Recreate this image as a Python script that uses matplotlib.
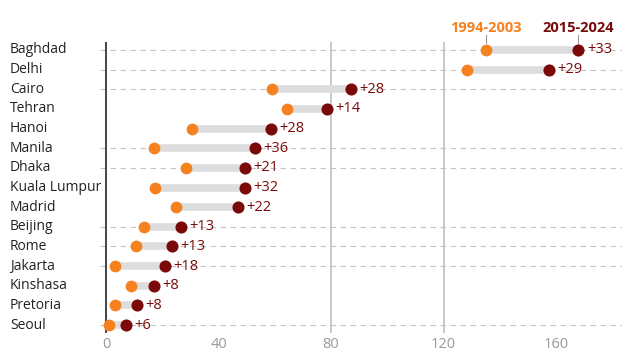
import matplotlib
matplotlib.use("Agg")
import matplotlib.pyplot as plt
import matplotlib.transforms as mtransforms

# Average temperature days, older decade vs recent decade
cities = ["Baghdad", "Delhi", "Cairo", "Tehran", "Hanoi", "Manila", "Dhaka",
          "Kuala Lumpur", "Madrid", "Beijing", "Rome", "Jakarta", "Kinshasa",
          "Pretoria", "Seoul"]
early = [135, 128.5, 59, 64.5, 30.5, 17, 28.5, 17.5, 25, 13.5, 10.5, 3, 9, 3, 1]
recent = [168, 157.5, 87, 78.5, 58.5, 53, 49.5, 49.5, 47, 26.5, 23.5, 21, 17, 11, 7]
changes = [33, 29, 28, 14, 28, 36, 21, 32, 22, 13, 13, 18, 8, 8, 6]
x_ticks = [0, 40, 80, 120, 160]
period_labels = ["1994-2003", "2015-2024"]

# rows that carry the dashed guide line in the original
dashed_rows = ["Baghdad", "Delhi", "Cairo", "Manila", "Dhaka", "Beijing",
               "Rome", "Jakarta", "Seoul"]

ORANGE = "#F5821F"
DARKRED = "#7A0A0A"

plt.rcParams["font.family"] = ["Open Sans", "DejaVu Sans"]

fig = plt.figure(figsize=(6.4, 3.57), dpi=100)
ax = fig.add_axes([100 / 640, 1 - 333 / 357, 522 / 640, (333 - 42) / 357])

rows = list(range(len(cities)))

for i, city in enumerate(cities):
    if city in dashed_rows:
        ax.plot([-2.2, 183.5], [i, i], color="#C4C4C4", lw=0.8,
                dashes=(5, 4), zorder=1)

# reference verticals
ax.axvline(0, color="#111111", lw=1.1, zorder=2)
for v in (80, 120):
    ax.axvline(v, color="#C0C0C0", lw=1.2, zorder=1)

for i in rows:
    ax.plot([early[i], recent[i]], [i, i], color="#DDDDDD", lw=5.5,
            solid_capstyle="butt", zorder=3)

ax.scatter(early, rows, s=72, color=ORANGE, zorder=4, linewidths=0)
ax.scatter(recent, rows, s=76, color=DARKRED, zorder=5, linewidths=0)

for i in rows:
    ax.text(recent[i] + 3.0, i, f"+{changes[i]}", color=DARKRED,
            fontsize=10.5, va="center", ha="left", zorder=6)

# city names on the far left
trans = mtransforms.blended_transform_factory(fig.transFigure, ax.transData)
for i, city in enumerate(cities):
    ax.text(10 / 640, i, city, transform=trans, fontsize=10,
            color="#222222", va="center", ha="left")

# period headers above the first row
ax.text(early[0], -1.12, period_labels[0], color=ORANGE, fontsize=10.5,
        fontweight="bold", ha="center", va="center", clip_on=False)
ax.text(recent[0], -1.12, period_labels[1], color=DARKRED, fontsize=10.5,
        fontweight="bold", ha="center", va="center", clip_on=False)
for xv in (early[0], recent[0]):
    ax.plot([xv, xv], [-0.75, -0.35], color="#999999", lw=0.8,
            clip_on=False, zorder=2)

ax.set_xlim(-2.2, 183.5)
ax.set_ylim(14.4, -0.4)
ax.set_xticks(x_ticks)
ax.set_xticklabels([str(t) for t in x_ticks], color="#999999", fontsize=10.5)
ax.set_yticks([])
ax.tick_params(axis="x", length=0, pad=3)
for side in ax.spines.values():
    side.set_visible(False)

fig.savefig("out.png", dpi=100)
